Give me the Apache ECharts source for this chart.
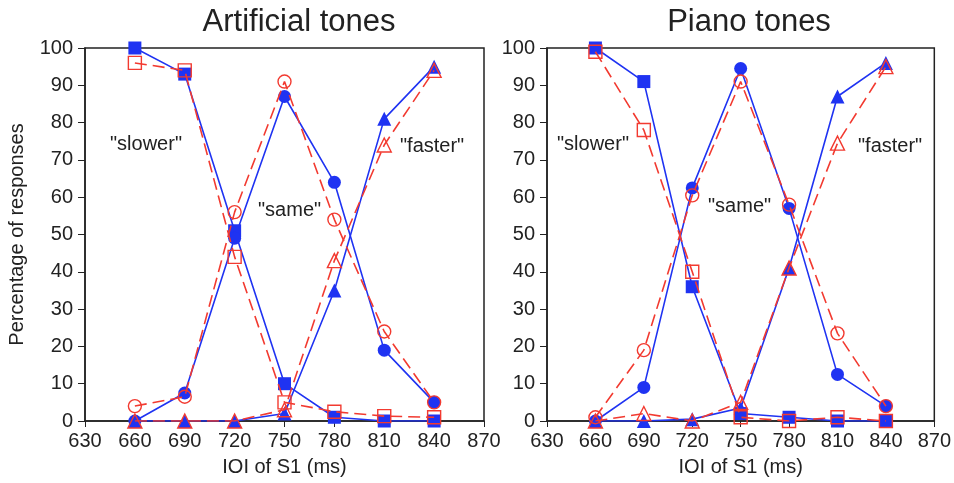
<!DOCTYPE html>
<html lang="en" style="height: 100%">
<head>
  <meta charset="utf-8">
</head>
<body style="height: 100%; margin: 0; background: #fff">
  <div id="container" style="width: 954px; height: 483px"></div>
  <script type="text/javascript" src="https://cdn.jsdelivr.net/npm/echarts@6/dist/echarts.min.js"></script>
  <script type="text/javascript">
    // IOI of S1 (ms)
    const ioi = [660, 690, 720, 750, 780, 810, 840];

    // Artificial tones
    const artSlowerBlue = [100, 93, 51, 10, 1, 0, 0];
    const artSlowerRed = [96, 94, 44, 5, 2.5, 1.3, 1];
    const artSameBlue = [0, 7.5, 49, 87, 64, 19, 5];
    const artSameRed = [4, 6.5, 56, 91, 54, 24, 5];
    const artFasterBlue = [0, 0, 0, 2, 35, 81, 95];
    const artFasterRed = [0, 0, 0, 3, 43, 74, 94];

    // Piano tones
    const pnoSlowerBlue = [100, 91, 36, 2, 1, 0, 0];
    const pnoSlowerRed = [99, 78, 40, 1, 0, 1, 0];
    const pnoSameBlue = [0, 9, 62.5, 94.5, 57, 12.5, 4];
    const pnoSameRed = [1, 19, 60.5, 91, 58, 23.5, 4];
    const pnoFasterBlue = [0, 0, 0.5, 3.5, 41, 87, 96];
    const pnoFasterRed = [0, 2, 0, 5, 41, 74.5, 95];

    const xTicks = [630, 660, 690, 720, 750, 780, 810, 840, 870];

    const BLUE = '#1f33f2';
    const RED = '#f23a30';
    const FONT = 'Liberation Sans';

    const zip = (arr) => ioi.map((x, i) => [x, arr[i]]);

    const blueSeries = (data, symbol, idx, size) => ({
      type: 'line',
      xAxisIndex: idx,
      yAxisIndex: idx,
      data: zip(data),
      symbol,
      symbolSize: size,
      lineStyle: { color: BLUE, width: 1.6 },
      itemStyle: { color: BLUE },
      z: 3,
      animation: false
    });
    const redSeries = (data, symbol, idx, size) => ({
      type: 'line',
      xAxisIndex: idx,
      yAxisIndex: idx,
      data: zip(data),
      symbol,
      symbolSize: size,
      showAllSymbol: true,
      lineStyle: { color: RED, width: 1.6, type: [12, 6] },
      itemStyle: { color: 'rgba(255,255,255,0)', borderColor: RED, borderWidth: 1.4 },
      z: 4,
      animation: false
    });

    const xAxisOf = (idx) => ({
      type: 'value',
      gridIndex: idx,
      min: 630,
      max: 870,
      interval: 30,
      name: 'IOI of S1 (ms)',
      nameLocation: 'middle',
      nameGap: 36,
      nameTextStyle: { fontFamily: FONT, fontSize: 20, color: '#222' },
      axisLine: { lineStyle: { color: '#222', width: 1.5 } },
      axisTick: { show: true, length: 6, lineStyle: { color: '#222' } },
      axisLabel: {
        fontFamily: FONT, fontSize: 20, color: '#222', margin: 10,
        formatter: (v) => (xTicks.includes(v) ? String(v) : '')
      },
      splitLine: { show: false }
    });
    const yAxisOf = (idx, withName) => ({
      type: 'value',
      gridIndex: idx,
      min: 0,
      max: 100,
      interval: 10,
      name: withName ? 'Percentage of responses' : '',
      nameLocation: 'middle',
      nameGap: 58,
      nameTextStyle: { fontFamily: FONT, fontSize: 20, color: '#222' },
      axisLine: { lineStyle: { color: '#222', width: 1.5 } },
      axisTick: { show: true, length: 7, lineStyle: { color: '#222' } },
      axisLabel: { fontFamily: FONT, fontSize: 20, color: '#222', margin: 12 },
      splitLine: { show: false }
    });

    const txt = (x, y, t, size) => ({
      type: 'text',
      left: x,
      top: y,
      style: { text: t, fontFamily: FONT, fontSize: size, fill: '#222' }
    });

    var dom = document.getElementById('container');
    var myChart = echarts.init(dom, null, { renderer: 'canvas' });
    var option = {
      backgroundColor: '#fff',
      animation: false,
      title: [
        { text: 'Artificial tones', left: 294, top: 2, textAlign: 'center',
          textStyle: { fontFamily: FONT, fontWeight: 'normal', fontSize: 31, color: '#222' } },
        { text: 'Piano tones', left: 744, top: 2, textAlign: 'center',
          textStyle: { fontFamily: FONT, fontWeight: 'normal', fontSize: 31, color: '#222' } }
      ],
      grid: [
        { left: 85, right: 470, top: 48, bottom: 62, show: true, borderColor: '#222', borderWidth: 1.5 },
        { left: 547, right: 18, top: 48, bottom: 62, show: true, borderColor: '#222', borderWidth: 1.5 }
      ],
      xAxis: [xAxisOf(0), xAxisOf(1)],
      yAxis: [yAxisOf(0, true), yAxisOf(1, false)],
      graphic: [
        txt(110, 134, '"slower"', 20),
        txt(258, 200, '"same"', 20),
        txt(400, 136, '"faster"', 20),
        txt(557, 134, '"slower"', 20),
        txt(708, 196, '"same"', 20),
        txt(858, 136, '"faster"', 20)
      ],
      series: [
        blueSeries(artSlowerBlue, 'rect', 0, 13),
        blueSeries(artSameBlue, 'circle', 0, 13),
        blueSeries(artFasterBlue, 'triangle', 0, 14),
        redSeries(artSlowerRed, 'rect', 0, 13),
        redSeries(artSameRed, 'circle', 0, 13),
        redSeries(artFasterRed, 'triangle', 0, 14),
        blueSeries(pnoSlowerBlue, 'rect', 1, 13),
        blueSeries(pnoSameBlue, 'circle', 1, 13),
        blueSeries(pnoFasterBlue, 'triangle', 1, 14),
        redSeries(pnoSlowerRed, 'rect', 1, 13),
        redSeries(pnoSameRed, 'circle', 1, 13),
        redSeries(pnoFasterRed, 'triangle', 1, 14)
      ]
    };
    myChart.setOption(option);
    window.addEventListener('resize', myChart.resize);
  </script>
</body>
</html>
